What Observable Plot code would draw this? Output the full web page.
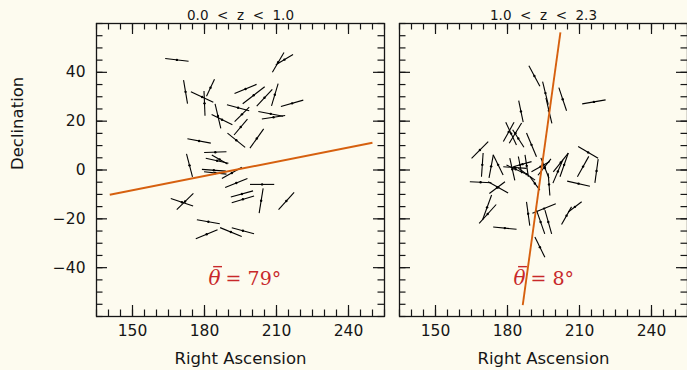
<!DOCTYPE html>
<html><head><meta charset="utf-8">
<script src="https://cdn.jsdelivr.net/npm/d3@7"></script>
<script src="https://cdn.jsdelivr.net/npm/@observablehq/plot@0.6"></script>
<style>
html,body{margin:0;padding:0;background:#fdfbef;}
#chart{display:flex;width:687px;height:370px;overflow:hidden;background:#fdfbef;}
svg text{white-space:pre;}
text[aria-label="axis-title-x"]{letter-spacing:1.9px;}
text[aria-label="axis-title-y"]{letter-spacing:1.4px;}
text[aria-label="panel-title"]{letter-spacing:0.3px;}
</style></head><body><div id="chart"></div>
<script>
// ---- data ----
const xTicks = [150, 180, 210, 240];
const yTicks = [-40, -20, 0, 20, 40];
const panelTitles = ["0.0  <  z  <  1.0", "1.0  <  z  <  2.3"];
const meanAngle = [79, 8];              // mean position angle (deg)
const meanCenterRA = [195.25, 194.2];
const meanCenterDec = [0.5, 0.55];
const meanHalfLength = [55.75, 56.4];
const annoRA = [181.7, 182.5];
const annoDec = [-44.5, -44.5];

// [RA, Dec, position angle (deg), vector length]
const lowZ = [
  [168.5, 45.1, 96.5, 9.8], [210.7, 44.1, 30.9, 9.4], [213.3, 45.2, 60, 8.3],
  [172.1, 32.0, 170.3, 9.8], [179.0, 29.9, 115, 10.3], [180.0, 27.3, 177.6, 10.1],
  [182.5, 33.7, 25.6, 7.7], [185.6, 22.1, 166.6, 10.3], [187.3, 20.6, 115.8, 9.6],
  [194.0, 25.5, 105, 9.6], [197.1, 33.2, 67.8, 9.9], [200.5, 30.6, 52.7, 11.5],
  [205.0, 29.6, 43.2, 9.5], [209.3, 30.8, 16.9, 9.5], [216.5, 27.3, 74.2, 9.7],
  [207.6, 23.0, 100.6, 10.5], [208.75, 21.6, 81.9, 9.8], [195.6, 22.8, 45.8, 8.5],
  [195.1, 17.6, 40.5, 8.6], [193.25, 12.2, 128.5, 9.4], [201.8, 12.9, 35.8, 9.75],
  [177.75, 11.9, 100.5, 9.9], [173.75, 1.9, 165.2, 9.8], [184.5, 7.3, 88.2, 9.3],
  [185.25, 3.8, 102.4, 9.7], [186.3, 4.3, 119.8, 7.5], [183.9, -0.1, 94, 10],
  [184.5, -1.2, 96, 9.4], [191.4, -1.2, 61.2, 9.5], [193.25, -5.3, 68.1, 10],
  [204.0, -5.9, 90, 10.1], [203.6, -12.6, 9.3, 10.3], [195.6, -9.8, 74.9, 9.6],
  [196.0, -12.0, 73.5, 9.7], [214.1, -12.7, 42.5, 9.6], [170.6, -13.2, 108.4, 9.8],
  [171.9, -12.9, 46.2, 9.6], [181.6, -21.2, 99.9, 9.7], [180.9, -26.3, 67.5, 9.8],
  [191.0, -25.4, 111.8, 9.7], [196.0, -24.9, 105, 9.6]
];
const highZ = [
  [191.2, 38.5, 151.2, 9.5], [195.8, 31.5, 166, 9.75], [197.25, 24.3, 166.7, 10.8],
  [203.0, 29.0, 161.3, 10], [216.0, 27.9, 80.3, 9.9], [185.6, 24.0, 168, 9],
  [181.5, 14.9, 154.4, 10.3], [180.5, 15.6, 29.4, 9.1], [183.3, 15.1, 31.8, 9.8],
  [184.5, 12.9, 146.8, 8.6], [168.5, 8.2, 45, 9.8], [169.5, 2.1, 4, 9.8],
  [173.2, 1.5, 10.7, 9.6], [176.1, 2.1, 153.4, 9.3], [168.8, -5.0, 92.6, 9.0],
  [176.1, -7.1, 118.8, 9.5], [175.7, -7.2, 53.5, 8.1], [171.5, -15.3, 20.3, 10.8],
  [171.75, -18.0, 42.5, 10.5], [178.9, -23.8, 95.7, 9.8], [183.1, 1.0, 94, 9.75],
  [183.4, 0.3, 114.4, 8.4], [182.0, 0.3, 167, 9.3], [185.2, 2.1, 168.7, 7],
  [188.0, 1.7, 171, 9.1], [186.2, 2.4, 74.8, 7.9], [188.0, -1.7, 125, 8.5],
  [191.4, -5.5, 143, 6.9], [193.8, 1.4, 61.3, 8.7], [197.3, -5.9, 175.5, 9.1],
  [202.2, 3.1, 39.2, 9.9], [190.0, 10.3, 156.9, 10.6], [213.6, 7.2, 120, 9.6],
  [217.1, -0.4, 8, 9.8], [211.5, 1.4, 29.5, 9.6], [209.6, -5.6, 102.4, 9.7],
  [203.6, 2.1, 19.5, 10.3], [201.0, -0.6, 23.5, 10.4], [195.4, 1.2, 39, 8.6],
  [195.6, 0.8, 158, 9], [188.6, -17.9, 172, 9.8], [195.25, -15.8, 68.2, 10.5],
  [193.8, -21.3, 160.4, 10.3], [197.0, -21.3, 164, 10.1], [193.5, -31.6, 153.4, 9.3],
  [204.6, -18.7, 30, 8.3], [208.1, -15.1, 53.3, 7]
];

// ---- drawing ----
const X_DOMAIN = [135, 255], Y_DOMAIN = [-60, 60];
const H = 370, MT = 23, MB = 54, innerH = H - MT - MB;
const ORANGE = "#d6600f", RED = "#c8282a", INK = "#161616";
const rad = d => d * Math.PI / 180;

function segs(rows) {
  return rows.map(([ra, dec, pa, len]) => {
    const h = len / 2, s = Math.sin(rad(pa)), c = Math.cos(rad(pa));
    return {ra, dec, x1: ra - h * s, x2: ra + h * s, y1: dec - h * c, y2: dec + h * c};
  });
}

function panel(i, rows, {width, ml, mr, showY}) {
  const innerW = width - ml - mr;
  const minorX = d3.range(135, 256, 5), minorY = d3.range(-60, 61, 5);
  const majorX = xTicks, majorY = yTicks;
  const MIN = 6.5, MAJ = 11;
  const data = segs(rows);
  const tickStyle = {stroke: INK, strokeWidth: 1.2};
  const marks = [
    Plot.frame({stroke: INK, strokeWidth: 1.3}),
    // inward ticks on all four sides
    Plot.ruleX(minorX, {...tickStyle, insetBottom: innerH - MIN}),
    Plot.ruleX(minorX, {...tickStyle, insetTop: innerH - MIN}),
    Plot.ruleX(majorX, {...tickStyle, insetBottom: innerH - MAJ}),
    Plot.ruleX(majorX, {...tickStyle, insetTop: innerH - MAJ}),
    Plot.ruleY(minorY, {...tickStyle, insetRight: innerW - MIN}),
    Plot.ruleY(minorY, {...tickStyle, insetLeft: innerW - MIN}),
    Plot.ruleY(majorY, {...tickStyle, insetRight: innerW - MAJ}),
    Plot.ruleY(majorY, {...tickStyle, insetLeft: innerW - MAJ}),
    // polarization vectors
    Plot.link(data, {x1: "x1", y1: "y1", x2: "x2", y2: "y2", stroke: "#000", strokeWidth: 1.1}),
    Plot.dot(data, {x: "ra", y: "dec", r: 1.2, fill: "#000"}),
    // mean orientation line
    Plot.link([i], {
      x1: k => meanCenterRA[k] - meanHalfLength[k] * Math.sin(rad(meanAngle[k])),
      x2: k => meanCenterRA[k] + meanHalfLength[k] * Math.sin(rad(meanAngle[k])),
      y1: k => meanCenterDec[k] - meanHalfLength[k] * Math.cos(rad(meanAngle[k])),
      y2: k => meanCenterDec[k] + meanHalfLength[k] * Math.cos(rad(meanAngle[k])),
      stroke: ORANGE, strokeWidth: 1.9
    }),
    // tick labels
    Plot.text(xTicks, {x: d => d, frameAnchor: "bottom", dy: 19, text: d => String(d),
      fontSize: 15.5, fontFamily: "DejaVu Sans", fill: INK}),
    Plot.text(["Right Ascension"], {frameAnchor: "bottom", dy: 47, text: d => d,
      fontSize: 16.5, fontFamily: "DejaVu Sans", fill: INK, ariaLabel: "axis-title-x"}),
    Plot.text([panelTitles[i]], {frameAnchor: "top", dy: -4, lineAnchor: "bottom", text: d => d,
      fontSize: 13.5, fontFamily: "DejaVu Sans", fill: INK, ariaLabel: "panel-title"}),
    // mean angle annotation: barred theta and the value
    Plot.text([i], {x: k => annoRA[k], y: k => annoDec[k], text: () => "\u03B8",
      textAnchor: "start", fontSize: 20, fontStyle: "italic", fontFamily: "DejaVu Serif", fill: RED}),
    Plot.link([i], {x1: k => annoRA[k] + 1.9, x2: k => annoRA[k] + 5.6,
      y1: k => annoDec[k], y2: k => annoDec[k], dy: -12, stroke: RED, strokeWidth: 1.4}),
    Plot.text([i], {x: k => annoRA[k], y: k => annoDec[k], dx: 17, text: k => `= ${meanAngle[k]}°`,
      textAnchor: "start", fontSize: 19, fontFamily: "DejaVu Serif", fill: RED})
  ];
  if (showY) {
    marks.push(
      Plot.text(yTicks, {y: d => d, frameAnchor: "left", dx: -11, textAnchor: "end",
        text: d => d < 0 ? "\u2212" + Math.abs(d) : String(d),
        fontSize: 15.5, fontFamily: "DejaVu Sans", fill: INK}),
      Plot.text(["Declination"], {frameAnchor: "left", dx: -79, rotate: -90, text: d => d,
        fontSize: 16.5, fontFamily: "DejaVu Sans", fill: INK, ariaLabel: "axis-title-y"})
    );
  }
  return Plot.plot({
    width, height: H, marginTop: MT, marginBottom: MB, marginLeft: ml, marginRight: mr,
    x: {domain: X_DOMAIN, axis: null},
    y: {domain: Y_DOMAIN, axis: null},
    style: {background: "transparent", overflow: "visible"},
    marks
  });
}

const chart = document.getElementById("chart");
chart.append(panel(0, lowZ, {width: 390, ml: 96, mr: 6, showY: true}));
chart.append(panel(1, highZ, {width: 297, ml: 9, mr: 0, showY: false}));
</script></body></html>
